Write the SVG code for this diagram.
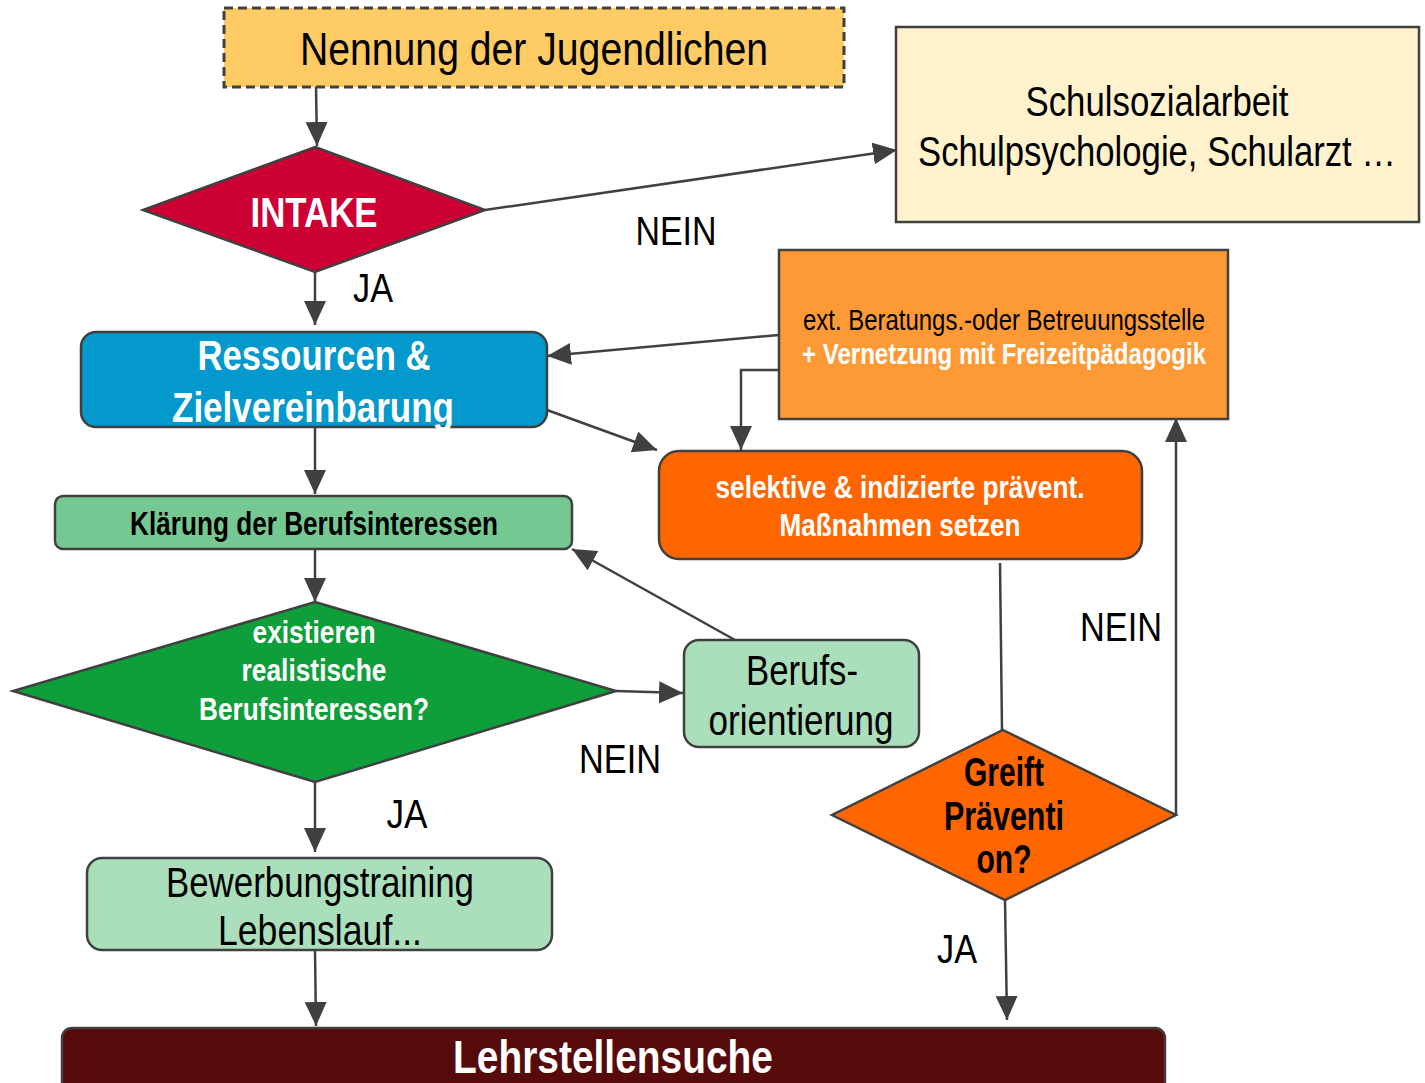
<svg xmlns="http://www.w3.org/2000/svg" width="1425" height="1083" viewBox="0 0 1425 1083">
<defs>
<marker id="ah" markerUnits="userSpaceOnUse" markerWidth="26" markerHeight="24" refX="24" refY="11" orient="auto">
<path d="M0,0 L24,11 L0,22 z" fill="#404040"/>
</marker>
<style>
.ln{stroke:#404040;stroke-width:2.5;fill:none}
.a{marker-end:url(#ah)}
.bx{stroke:#404040;stroke-width:2.5}
text{font-family:"Liberation Sans",Arial,sans-serif;text-anchor:middle}
.b{font-weight:bold}
.w{fill:#ffffff}
.k{fill:#000000}
</style>
</defs>
<rect width="1425" height="1083" fill="#ffffff"/>
<g id="connectors">
<line class="ln a" x1="316" y1="87" x2="317" y2="146"/>
<line class="ln a" x1="485" y1="210" x2="897" y2="150"/>
<line class="ln a" x1="315" y1="272" x2="315" y2="325"/>
<line class="ln a" x1="779" y1="335" x2="547" y2="356"/>
<polyline class="ln a" points="779,370 741,370 741,450"/>
<line class="ln a" x1="547" y1="410" x2="657" y2="450"/>
<line class="ln a" x1="315" y1="427" x2="315" y2="494"/>
<line class="ln a" x1="315" y1="549" x2="315" y2="602"/>
<line class="ln a" x1="616" y1="691" x2="683" y2="693"/>
<line class="ln a" x1="735" y1="640" x2="572" y2="549"/>
<line class="ln a" x1="315" y1="782" x2="315" y2="852"/>
<line class="ln a" x1="315" y1="950" x2="316" y2="1026"/>
<line class="ln" x1="1000" y1="563" x2="1002" y2="730"/>
<polyline class="ln a" points="1176,815 1176,418"/>
<line class="ln a" x1="1005" y1="900" x2="1007" y2="1020"/>
</g>
<g id="labels">
<text x="676" y="245" font-size="40" textLength="81" lengthAdjust="spacingAndGlyphs">NEIN</text>
<text x="373" y="302" font-size="40" textLength="40" lengthAdjust="spacingAndGlyphs">JA</text>
<text x="620" y="773" font-size="40" textLength="82" lengthAdjust="spacingAndGlyphs">NEIN</text>
<text x="407" y="828" font-size="40" textLength="41" lengthAdjust="spacingAndGlyphs">JA</text>
<text x="1121" y="641" font-size="40" textLength="82" lengthAdjust="spacingAndGlyphs">NEIN</text>
<text x="957" y="963" font-size="40" textLength="40" lengthAdjust="spacingAndGlyphs">JA</text>
</g>
<g id="nennung">
<rect x="224" y="8" width="620" height="79" fill="#FECB65" stroke="#404040" stroke-width="3" stroke-dasharray="9,5"/>
<text x="534" y="65" font-size="46" textLength="468" lengthAdjust="spacingAndGlyphs">Nennung der Jugendlichen</text>
</g>
<g id="intake">
<polygon class="bx" points="315,147 485,210 315,272 143,210" fill="#CC0033"/>
<text class="w b" x="314" y="227" font-size="43" textLength="127" lengthAdjust="spacingAndGlyphs">INTAKE</text>
</g>
<g id="schulsozialarbeit">
<rect class="bx" x="896" y="27" width="523" height="195" fill="#FFF2CC"/>
<text x="1157" y="116" font-size="42" textLength="263" lengthAdjust="spacingAndGlyphs">Schulsozialarbeit</text>
<text x="1157" y="166" font-size="42" textLength="478" lengthAdjust="spacingAndGlyphs">Schulpsychologie, Schularzt …</text>
</g>
<g id="ressourcen">
<rect class="bx" x="81" y="332" width="466" height="95" rx="15" fill="#0399CC"/>
<text class="w b" x="314" y="370" font-size="43" textLength="233" lengthAdjust="spacingAndGlyphs">Ressourcen &amp;</text>
<text class="w b" x="313" y="422" font-size="43" textLength="282" lengthAdjust="spacingAndGlyphs">Zielvereinbarung</text>
</g>
<g id="ext">
<rect class="bx" x="779" y="250" width="449" height="169" fill="#FE9A35"/>
<text x="1004" y="330" font-size="30" textLength="402" lengthAdjust="spacingAndGlyphs">ext. Beratungs.-oder Betreuungsstelle</text>
<text class="w b" x="1004" y="364" font-size="30" textLength="404" lengthAdjust="spacingAndGlyphs">+ Vernetzung mit Freizeitpädagogik</text>
</g>
<g id="selektive">
<rect class="bx" x="659" y="451" width="483" height="108" rx="20" fill="#FF6600"/>
<text class="w b" x="900" y="498" font-size="32" textLength="369" lengthAdjust="spacingAndGlyphs">selektive &amp; indizierte prävent.</text>
<text class="w b" x="900" y="536" font-size="32" textLength="241" lengthAdjust="spacingAndGlyphs">Maßnahmen setzen</text>
</g>
<g id="klaerung">
<rect class="bx" x="55" y="496" width="517" height="53" rx="8" fill="#76C893"/>
<text class="k b" x="314" y="535" font-size="33" textLength="368" lengthAdjust="spacingAndGlyphs">Klärung der Berufsinteressen</text>
</g>
<g id="existieren">
<polygon class="bx" points="315,602 616,691 315,782 13,691" fill="#0E9E3A"/>
<text class="w b" x="314" y="643" font-size="32" textLength="123" lengthAdjust="spacingAndGlyphs">existieren</text>
<text class="w b" x="314" y="681" font-size="32" textLength="145" lengthAdjust="spacingAndGlyphs">realistische</text>
<text class="w b" x="314" y="720" font-size="32" textLength="230" lengthAdjust="spacingAndGlyphs">Berufsinteressen?</text>
</g>
<g id="berufsorientierung">
<rect class="bx" x="684" y="640" width="235" height="107" rx="15" fill="#ABDEBB"/>
<text x="802" y="685" font-size="43" textLength="112" lengthAdjust="spacingAndGlyphs">Berufs-</text>
<text x="801" y="735" font-size="43" textLength="185" lengthAdjust="spacingAndGlyphs">orientierung</text>
</g>
<g id="greift">
<polygon class="bx" points="1003,730 1176,815 1005,900 832,815" fill="#FF6600"/>
<text class="k b" x="1004" y="786" font-size="40" textLength="80" lengthAdjust="spacingAndGlyphs">Greift</text>
<text class="k b" x="1004" y="830" font-size="40" textLength="120" lengthAdjust="spacingAndGlyphs">Präventi</text>
<text class="k b" x="1004" y="873" font-size="40" textLength="55" lengthAdjust="spacingAndGlyphs">on?</text>
</g>
<g id="bewerbung">
<rect class="bx" x="87" y="858" width="465" height="92" rx="15" fill="#ABDEBB"/>
<text x="320" y="897" font-size="43" textLength="308" lengthAdjust="spacingAndGlyphs">Bewerbungstraining</text>
<text x="320" y="945" font-size="43" textLength="204" lengthAdjust="spacingAndGlyphs">Lebenslauf...</text>
</g>
<g id="lehrstellensuche">
<rect class="bx" x="62" y="1028" width="1103" height="70" rx="10" fill="#570A0A"/>
<text class="w b" x="613" y="1073" font-size="46" textLength="320" lengthAdjust="spacingAndGlyphs">Lehrstellensuche</text>
</g>
</svg>
